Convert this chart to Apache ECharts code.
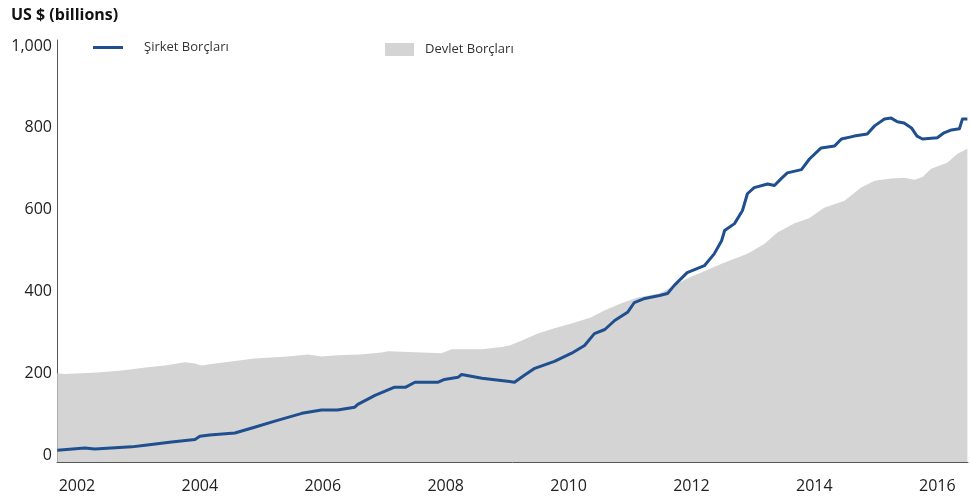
<!DOCTYPE html>
<html>
<head>
<meta charset="utf-8">
<script src="https://cdn.jsdelivr.net/npm/echarts@6/dist/echarts.min.js"></script>
<style>html,body{margin:0;padding:0;background:#fff}#c{width:970px;height:498px}</style>
</head>
<body>
<div id="c"></div>
<script>
// Şirket Borçları (corporate debt), [year, US$ bn]
const corporateDebt = [
 [2001.68,12],[2002.13,17],[2002.29,15],[2002.89,20],[2003.11,24],[2003.54,32],[2003.92,38],[2004.00,46],[2004.16,49],
 [2004.57,54],[2004.89,68],[2005.22,83],[2005.66,102],[2005.98,110],[2006.24,110],[2006.52,117],[2006.57,124],[2006.85,146],
 [2007.17,166],[2007.35,166],[2007.50,178],[2007.87,178],[2007.98,185],[2008.20,190],[2008.26,197],[2008.59,188],[2009.04,180],
 [2009.12,178],[2009.28,195],[2009.45,212],[2009.77,229],[2010.05,249],[2010.26,268],[2010.42,297],[2010.59,307],[2010.75,329],
 [2010.96,349],[2011.07,373],[2011.24,383],[2011.48,390],[2011.61,395],[2011.72,415],[2011.93,446],[2012.21,463],[2012.37,492],
 [2012.49,524],[2012.54,549],[2012.70,566],[2012.83,598],[2012.91,639],[2013.02,654],[2013.24,663],[2013.35,659],[2013.46,676],
 [2013.56,690],[2013.79,698],[2013.92,724],[2014.11,751],[2014.33,756],[2014.44,773],[2014.65,780],[2014.86,785],[2014.98,805],
 [2015.14,822],[2015.25,824],[2015.35,815],[2015.46,812],[2015.58,800],[2015.67,780],[2015.76,773],[2016.00,776],[2016.11,788],
 [2016.23,795],[2016.36,798],[2016.41,822],[2016.49,822]
];
// Devlet Borçları (government debt), [year, US$ bn]
const governmentDebt = [
 [2001.68,200],[2001.80,198],[2002.34,202],[2002.73,207],[2003.15,215],[2003.43,219],[2003.76,227],[2003.92,224],[2004.03,219],
 [2004.16,222],[2004.41,227],[2004.89,236],[2005.43,241],[2005.76,246],[2005.98,241],[2006.24,244],[2006.60,246],[2006.96,251],
 [2007.06,254],[2007.61,251],[2007.93,249],[2008.10,259],[2008.59,259],[2008.91,264],[2009.04,268],[2009.24,280],[2009.50,297],
 [2009.77,310],[2010.05,322],[2010.37,337],[2010.59,354],[2010.86,371],[2011.12,385],[2011.48,395],[2011.93,432],[2012.49,468],
 [2012.91,492],[2013.19,517],[2013.40,544],[2013.67,566],[2013.92,580],[2014.16,605],[2014.49,622],[2014.76,654],[2014.98,671],
 [2015.25,676],[2015.46,678],[2015.63,673],[2015.76,680],[2015.90,700],[2016.16,715],[2016.33,737],[2016.49,749]
];
const yearTicks = [2002,2004,2006,2008,2010,2012,2014,2016];
const valueTicks = [0,200,400,600,800,1000];
const seriesNames = ['Şirket Borçları','Devlet Borçları'];

const FONT = '"Open Sans","Noto Sans",sans-serif';
const chart = echarts.init(document.getElementById('c'));
chart.setOption({
  animation:false,
  backgroundColor:'#fff',
  textStyle:{fontFamily:FONT},
  title:{text:'US $ (billions)',left:6,top:2,textStyle:{fontSize:16,fontWeight:'bold',color:'#111',fontFamily:FONT}},
  legend:[
    {data:[{name:seriesNames[0],icon:'rect'}],left:88,top:36,itemWidth:30,itemHeight:3,itemGap:10,
     textStyle:{fontSize:13,color:'#333',padding:[0,0,0,16]}},
    {data:[{name:seriesNames[1],icon:'rect'}],left:380,top:38,itemWidth:29,itemHeight:13,
     textStyle:{fontSize:13,color:'#333',padding:[0,0,0,6]}}
  ],
  grid:{left:57,right:2,top:40,bottom:36,containLabel:false},
  xAxis:{type:'value',min:2001.675,max:2016.5,
    axisLine:{onZero:false,lineStyle:{color:'#555',width:1}},
    axisTick:{show:false},splitLine:{show:false},
    axisLabel:{customValues:yearTicks,formatter:v=>String(Math.round(v)),fontSize:16,color:'#222',margin:16,fontFamily:FONT}
  },
  yAxis:{type:'value',min:-17,max:1015,
    axisLine:{show:true,lineStyle:{color:'#555',width:1}},
    axisTick:{show:false},splitLine:{show:false},
    axisLabel:{customValues:valueTicks,formatter:v=>v.toLocaleString('en-US'),fontSize:16,color:'#222',margin:5,fontFamily:FONT}
  },
  series:[
    {name:seriesNames[1],type:'line',data:governmentDebt,symbol:'none',
     lineStyle:{width:0,color:'#d4d4d4'},itemStyle:{color:'#d4d4d4'},
     areaStyle:{color:'#d4d4d4',opacity:1,origin:'start'},z:1},
    {name:seriesNames[0],type:'line',data:corporateDebt,symbol:'none',
     lineStyle:{width:3,color:'#1f4f8f',join:'round'},itemStyle:{color:'#1f4f8f'},z:3}
  ]
});
</script>
</body>
</html>
